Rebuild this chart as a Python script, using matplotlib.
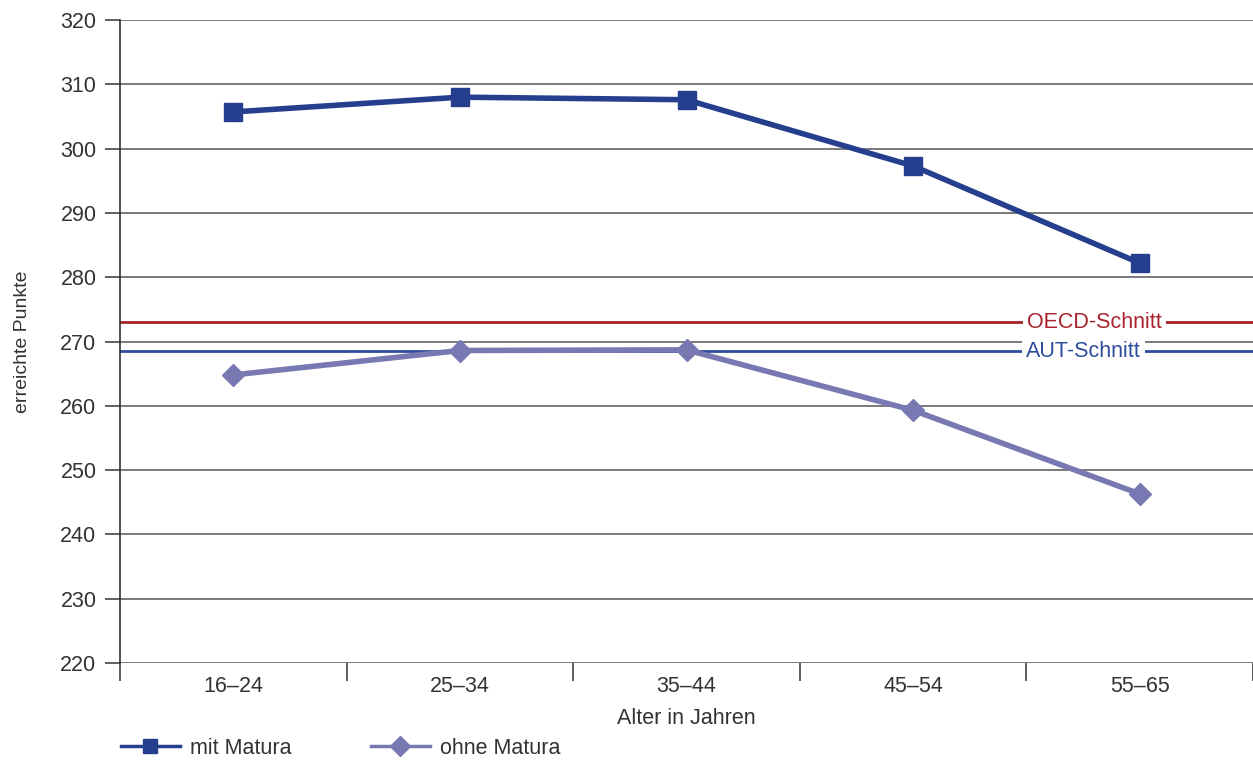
import numpy as np
import matplotlib.pyplot as plt
from matplotlib.lines import Line2D

plt.rcParams['font.family'] = ['Liberation Sans', 'DejaVu Sans']

categories = ['16–24', '25–34', '35–44', '45–54', '55–65']
mit_matura = [305.7, 308.0, 307.6, 297.3, 282.2]
ohne_matura = [264.8, 268.6, 268.7, 259.3, 246.3]
oecd_schnitt = 273.0
aut_schnitt = 268.6
y_ticks = list(range(220, 321, 10))

dark_blue = '#253F8E'
lavender = '#7878B2'
oecd_red = '#A8232C'
aut_blue = '#2D4C9C'
text_col = '#333333'
fs = 15.5

fig = plt.figure(figsize=(12.53, 7.61), dpi=100)
ax = fig.add_axes([120 / 1253, 98 / 761, 1 - 120 / 1253, 643 / 761])

x = np.arange(len(categories))

# gridlines
for t in y_ticks:
    ax.axhline(t, color='#555555', lw=1.1, zorder=1)

# reference lines with labels
ax.axhline(oecd_schnitt, color=oecd_red, lw=2, zorder=2)
ax.axhline(aut_schnitt, color=aut_blue, lw=2, zorder=2)
ax.text(3.80, oecd_schnitt, 'OECD-Schnitt', color=oecd_red, fontsize=fs,
        ha='center', va='center', zorder=3,
        bbox=dict(facecolor='white', edgecolor='none', pad=3))
ax.text(3.75, aut_schnitt - 0.2, 'AUT-Schnitt', color=aut_blue, fontsize=fs,
        ha='center', va='center', zorder=3,
        bbox=dict(facecolor='white', edgecolor='none', pad=3))

ax.plot(x, mit_matura, color=dark_blue, lw=4, marker='s', markersize=13.5,
        zorder=5, solid_joinstyle='round')
ax.plot(x, ohne_matura, color=lavender, lw=4, marker='D', markersize=11.5,
        zorder=5, solid_joinstyle='round')

ax.set_xlim(-0.5, 4.5)
ax.set_ylim(220, 320)
ax.set_yticks(y_ticks)
ax.set_xticks(np.arange(-0.5, 4.6, 1.0))
ax.set_xticklabels([])
ax.set_xticks(x, minor=True)
ax.set_xticklabels(categories, minor=True)

for s in ['top', 'right', 'bottom']:
    ax.spines[s].set_visible(False)
ax.spines['left'].set_color('#333333')
ax.spines['left'].set_linewidth(1.2)

ax.tick_params(axis='y', direction='out', length=11, width=1.1, color='#333333',
               labelsize=fs, labelcolor=text_col, pad=6)
ax.tick_params(axis='x', which='major', direction='out', length=13, width=1.1,
               color='#333333')
ax.tick_params(axis='x', which='minor', length=0, labelsize=fs,
               labelcolor=text_col, pad=9)

ax.set_ylabel('erreichte Punkte', fontsize=14, color=text_col, labelpad=21)
ax.set_xlabel('Alter in Jahren', fontsize=fs, color=text_col, labelpad=8)

handles = [
    Line2D([], [], color=dark_blue, lw=2.5, marker='s', markersize=10),
    Line2D([], [], color=lavender, lw=2.5, marker='D', markersize=10),
]
fig.legend(handles, ['mit Matura', 'ohne Matura'], loc='center left',
           bbox_to_anchor=(102 / 1253, 13 / 761), ncol=2, frameon=False,
           fontsize=fs, handlelength=2.7, columnspacing=3.7,
           handletextpad=0.5, labelcolor=text_col)

fig.savefig('out.png', dpi=100)
